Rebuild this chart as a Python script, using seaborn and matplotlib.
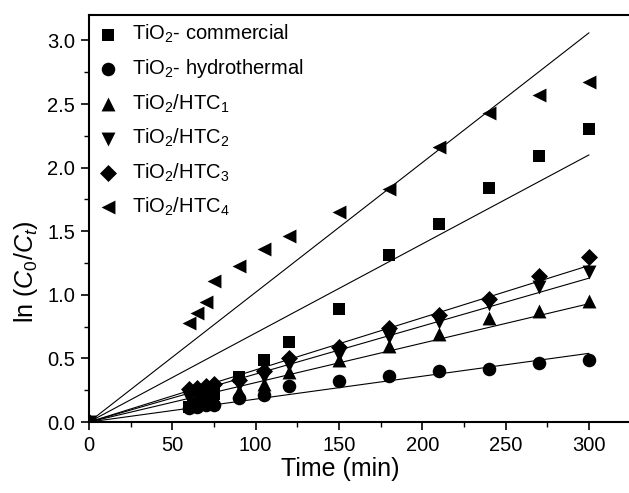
import numpy as np
import pandas as pd
import matplotlib
matplotlib.use("Agg")
import matplotlib.pyplot as plt
import seaborn as sns

# Irradiation times (min)
time = [0, 60, 65, 70, 75, 90, 105, 120, 150, 180, 210, 240, 270, 300]

# ln(C0/Ct) for each photocatalyst
commercial   = [0, 0.12, 0.14, 0.17, 0.22, 0.35, 0.49, 0.63, 0.89, 1.31, 1.56, 1.84, 2.09, 2.30]
hydrothermal = [0, 0.11, 0.12, 0.13, 0.13, 0.19, 0.21, 0.28, 0.32, 0.36, 0.40, 0.42, 0.46, 0.49]
htc1         = [0, 0.15, 0.16, 0.18, 0.19, 0.24, 0.30, 0.39, 0.49, 0.60, 0.69, 0.82, 0.87, 0.95]
htc2         = [0, 0.19, 0.20, 0.22, 0.24, 0.29, 0.35, 0.45, 0.53, 0.67, 0.79, 0.93, 1.06, 1.18]
htc3         = [0, 0.26, 0.27, 0.28, 0.30, 0.33, 0.40, 0.50, 0.59, 0.74, 0.84, 0.97, 1.15, 1.30]
htc4         = [0, 0.78, 0.86, 0.94, 1.11, 1.23, 1.36, 1.46, 1.65, 1.83, 2.16, 2.43, 2.57, 2.67]

# Pseudo-first-order rate constants k (min^-1) of the fitted lines
rate_k = [0.0070, 0.0018, 0.0031, 0.00377, 0.0041, 0.0102]

labels = [r"TiO$_2$- commercial", r"TiO$_2$- hydrothermal", r"TiO$_2$/HTC$_1$",
          r"TiO$_2$/HTC$_2$", r"TiO$_2$/HTC$_3$", r"TiO$_2$/HTC$_4$"]
series = [commercial, hydrothermal, htc1, htc2, htc3, htc4]
markers = ["s", "o", "^", "v", "D", "<"]
sizes = [68, 95, 100, 100, 75, 100]

sns.set_style("ticks")
plt.rcParams["font.family"] = ["Liberation Sans", "DejaVu Sans"]
plt.rcParams["mathtext.fontset"] = "custom"
plt.rcParams["mathtext.rm"] = "Liberation Sans"
plt.rcParams["mathtext.it"] = "Liberation Sans:italic"
plt.rcParams["mathtext.bf"] = "Liberation Sans:bold"
plt.rcParams["text.color"] = "black"
plt.rcParams["axes.labelcolor"] = "black"
plt.rcParams["xtick.color"] = "black"
plt.rcParams["ytick.color"] = "black"

fig = plt.figure(figsize=(6.29, 4.93), dpi=100)
ax = fig.add_axes([0.1415, 0.144, 0.8585, 0.8256])

frames = []
for lab, vals in zip(labels, series):
    frames.append(pd.DataFrame({"time": time, "value": vals, "sample": lab}))
df = pd.concat(frames, ignore_index=True)

# Fitted lines through the origin, 0-300 min
t_fit = np.array([0, 300])
fit_frames = []
for lab, k in zip(labels, rate_k):
    fit_frames.append(pd.DataFrame({"time": t_fit, "value": k * t_fit, "sample": lab}))
fit = pd.concat(fit_frames, ignore_index=True)
sns.lineplot(data=fit, x="time", y="value", units="sample", estimator=None,
             color="black", lw=0.8, ax=ax, legend=False)

for lab, m, s in zip(labels, markers, sizes):
    sub = df[df["sample"] == lab]
    sns.scatterplot(data=sub, x="time", y="value", marker=m, s=s, color="black",
                    edgecolor="black", linewidth=0, ax=ax, label=lab, zorder=3)

ax.set_xlim(0, 324)
ax.set_ylim(0, 3.2)
ax.set_xticks([0, 50, 100, 150, 200, 250, 300])
ax.set_yticks([0.0, 0.5, 1.0, 1.5, 2.0, 2.5, 3.0])
ax.set_yticklabels(["0.0", "0.5", "1.0", "1.5", "2.0", "2.5", "3.0"])
ax.set_xticks(np.arange(25, 325, 50), minor=True)
ax.set_yticks(np.arange(0.25, 3.2, 0.5), minor=True)
ax.tick_params(axis="both", which="major", direction="out", length=6, width=1.2,
               labelsize=14.5, pad=4)
ax.tick_params(axis="both", which="minor", direction="out", length=3.5, width=1.0)
ax.spines["right"].set_visible(False)
for sp in ["left", "bottom", "top"]:
    ax.spines[sp].set_linewidth(1.5)
    ax.spines[sp].set_color("black")

ax.set_xlabel("Time (min)", fontsize=18)
ax.set_ylabel(r"ln ($C_0$/$C_t$)", fontsize=18)
ax.xaxis.set_label_coords(0.465, -0.086)
ax.yaxis.set_label_coords(-0.09, 0.37)

ax.legend(loc="upper left", frameon=False, fontsize=14.5, labelspacing=0.6,
          handletextpad=0.7, borderaxespad=0.2, handlelength=1.0,
          bbox_to_anchor=(-0.006, 1.01))

fig.savefig("out.png", dpi=100)
